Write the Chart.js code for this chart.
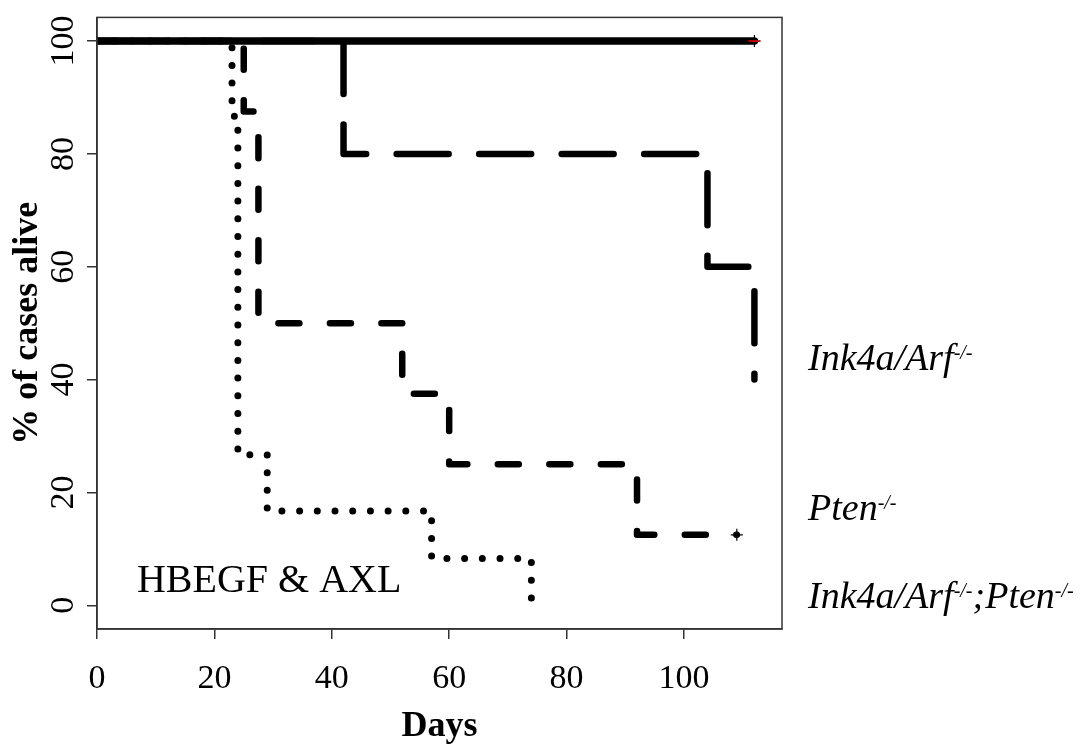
<!DOCTYPE html>
<html>
<head>
<meta charset="utf-8">
<script src="https://cdn.jsdelivr.net/npm/chart.js@4/dist/chart.umd.min.js"></script>
<style>
  html, body { margin: 0; padding: 0; background: #fff; }
</style>
</head>
<body>
<canvas id="km" width="1081" height="746"></canvas>
<script>
const xTicks = [0, 20, 40, 60, 80, 100];
const yTicks = [0, 20, 40, 60, 80, 100];

// Kaplan-Meier steps (days, % alive)
const solidDays = [0, 112];
const solidAlive = [100, 100];
const longDashDays = [0, 42, 104, 112];
const longDashAlive = [100, 80, 60, 40];
const medDashDays = [0, 25, 27.5, 52, 60, 92, 109];
const medDashAlive = [100, 87.5, 50, 37.5, 25, 12.5, 12.5];
const dotDays = [0, 23, 24, 29, 57, 74];
const dotAlive = [100, 86.7, 26.7, 16.7, 8.3, 0];

// censored cases (+)
const censorDays = [112, 109];
const censorAlive = [100, 12.5];

const groupLabels = [
  ['Ink4a/Arf', '-/-'],
  ['Pten', '-/-'],
  ['Ink4a/Arf', '-/-', ';Pten', '-/-']
];
const noteText = 'HBEGF & AXL';

const serif = '"Liberation Serif", "Times New Roman", serif';
const toPts = (xs, ys) => xs.map((x, i) => ({ x, y: ys[i] }));

const curve = (xs, ys, dash, width) => ({
  data: toPts(xs, ys),
  borderColor: '#000',
  borderWidth: width,
  borderDash: dash,
  borderCapStyle: 'round',
  borderJoinStyle: 'round',
  stepped: 'before',
  pointRadius: 0,
  fill: false
});

const textPlugin = {
  id: 'kmText',
  afterDraw(chart) {
    const { ctx, chartArea: a, scales } = chart;
    ctx.save();
    ctx.strokeStyle = '#333';
    ctx.lineWidth = 1.5;
    ctx.strokeRect(a.left, a.top, a.right - a.left, a.bottom - a.top);

    ctx.fillStyle = '#000';
    ctx.textBaseline = 'alphabetic';
    ctx.textAlign = 'left';
    ctx.font = `40px ${serif}`;
    ctx.fillText(noteText, scales.x.getPixelForValue(6.8), scales.y.getPixelForValue(2.3));

    const baselines = [370, 520, 608];
    groupLabels.forEach((parts, i) => {
      let x = 808;
      parts.forEach((p, j) => {
        const sup = j % 2 === 1;
        ctx.font = `italic ${sup ? 20 : 38}px ${serif}`;
        ctx.fillText(p, x, sup ? baselines[i] - 11 : baselines[i]);
        x += ctx.measureText(p).width;
      });
    });
    ctx.restore();
  }
};

new Chart(document.getElementById('km'), {
  type: 'line',
  data: {
    datasets: [
      {
        data: toPts(censorDays.slice(0, 1), censorAlive.slice(0, 1)),
        showLine: false, pointStyle: 'line', pointRadius: 6,
        pointBorderColor: '#e00', pointBorderWidth: 1.5
      },
      {
        data: toPts(censorDays, censorAlive),
        showLine: false, pointStyle: 'cross', pointRadius: 6,
        pointBorderColor: '#000', pointBorderWidth: 1.2
      },
      curve(solidDays, solidAlive, [], 7.5),
      curve(longDashDays, longDashAlive, [52, 30.5], 6.5),
      curve(medDashDays, medDashAlive, [21, 30.5], 6.5),
      curve(dotDays, dotAlive, [0, 17.7], 7)
    ]
  },
  options: {
    responsive: false,
    animation: false,
    devicePixelRatio: 1,
    layout: { padding: { top: 15, right: 299, left: 0, bottom: 0 } },
    plugins: { legend: { display: false }, tooltip: { enabled: false } },
    scales: {
      x: {
        type: 'linear',
        min: 0,
        max: 116.7,
        afterBuildTicks: s => { s.ticks = xTicks.map(v => ({ value: v })); },
        afterFit: s => { s.height = 117; },
        grid: { drawOnChartArea: false, tickLength: 10, color: '#333', lineWidth: 1.5 },
        border: { color: '#333', width: 1.5 },
        ticks: { color: '#000', font: { family: serif, size: 34 }, padding: 20, maxRotation: 0 },
        title: {
          display: true, text: 'Days', color: '#000',
          font: { family: serif, size: 36, weight: 'bold' },
          padding: { top: 0, bottom: -2 }
        }
      },
      y: {
        min: -4.2,
        max: 104.2,
        afterBuildTicks: s => { s.ticks = yTicks.map(v => ({ value: v })); },
        afterFit: s => { s.width = 97; },
        grid: { drawOnChartArea: false, tickLength: 10, color: '#333', lineWidth: 1.5 },
        border: { color: '#333', width: 1.5 },
        ticks: {
          color: '#000', font: { family: serif, size: 34 },
          minRotation: 90, maxRotation: 90, crossAlign: 'center', padding: -3
        },
        title: {
          display: true, text: '% of cases alive', color: '#000',
          font: { family: serif, size: 36, weight: 'bold' },
          padding: { top: 6, bottom: 0 }
        }
      }
    }
  },
  plugins: [textPlugin]
});
</script>
</body>
</html>
